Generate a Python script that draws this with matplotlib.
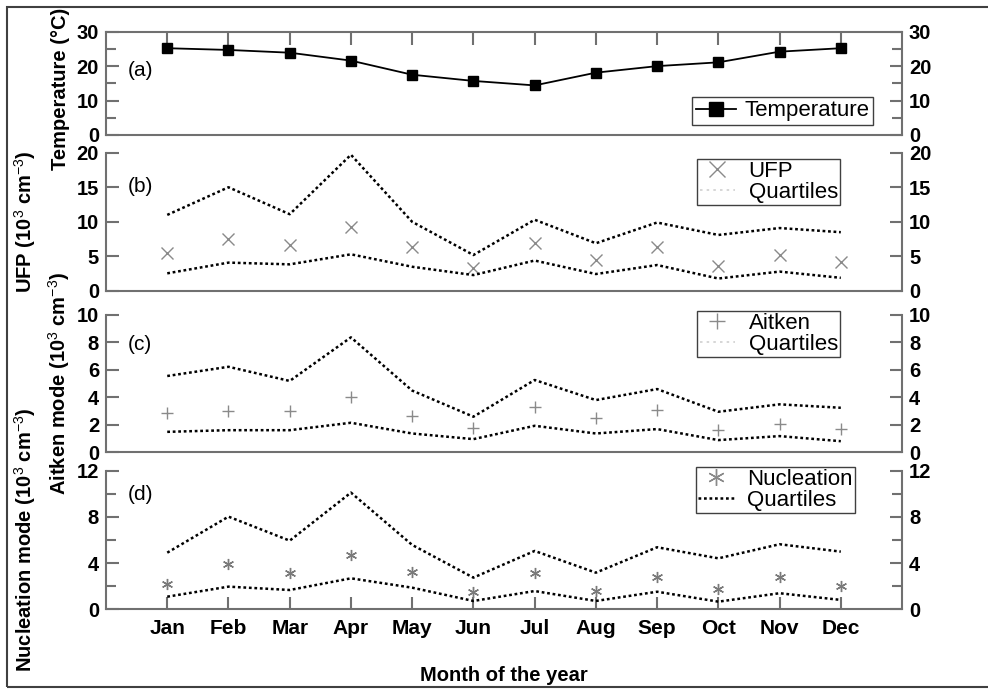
import matplotlib
matplotlib.use("Agg")
import matplotlib.pyplot as plt
from matplotlib.lines import Line2D
from matplotlib.patches import Rectangle
from matplotlib.ticker import MultipleLocator

plt.rcParams['font.family'] = ['Liberation Sans', 'DejaVu Sans']
plt.rcParams['mathtext.fontset'] = 'custom'
plt.rcParams['mathtext.rm'] = 'Liberation Sans'
plt.rcParams['mathtext.it'] = 'Liberation Sans:italic'
plt.rcParams['mathtext.bf'] = 'Liberation Sans:bold'

months = ['Jan', 'Feb', 'Mar', 'Apr', 'May', 'Jun', 'Jul', 'Aug', 'Sep', 'Oct', 'Nov', 'Dec']
month_idx = list(range(1, 13))

temperature = [25.2, 24.7, 23.9, 21.6, 17.5, 15.7, 14.4, 18.1, 20.0, 21.1, 24.2, 25.2]

ufp_median = [5.45, 7.5, 6.65, 9.3, 6.35, 3.3, 7.0, 4.5, 6.4, 3.6, 5.2, 4.2]
ufp_q75 = [11.0, 15.0, 11.1, 19.7, 10.0, 5.2, 10.3, 6.9, 9.9, 8.1, 9.1, 8.5]
ufp_q25 = [2.55, 4.1, 3.85, 5.3, 3.5, 2.3, 4.4, 2.45, 3.75, 1.8, 2.8, 1.9]

aitken_median = [2.84, 3.03, 3.03, 4.0, 2.64, 1.8, 3.32, 2.52, 3.08, 1.62, 2.06, 1.7]
aitken_q75 = [5.56, 6.23, 5.2, 8.37, 4.5, 2.6, 5.27, 3.81, 4.61, 2.96, 3.5, 3.25]
aitken_q25 = [1.5, 1.62, 1.62, 2.16, 1.38, 0.97, 1.94, 1.38, 1.7, 0.9, 1.19, 0.82]

nuc_median = [2.16, 3.9, 3.17, 4.7, 3.2, 1.53, 3.12, 1.58, 2.82, 1.76, 2.82, 2.02]
nuc_q75 = [4.9, 8.02, 5.94, 10.1, 5.57, 2.74, 5.05, 3.17, 5.37, 4.41, 5.63, 4.99]
nuc_q25 = [1.09, 1.96, 1.67, 2.68, 1.87, 0.72, 1.58, 0.72, 1.52, 0.66, 1.39, 0.81]

spine_col = '#707070'
dot_style = (0, (1.1, 1.1))

fig = plt.figure(figsize=(9.88, 6.89), dpi=100)
left, width = 0.1073, 0.8057
ax_a = fig.add_axes([left, 0.8041, width, 0.1499])
ax_b = fig.add_axes([left, 0.5777, width, 0.2007])
ax_c = fig.add_axes([left, 0.3433, width, 0.1996])
ax_d = fig.add_axes([left, 0.1157, width, 0.2012])

for ax in [ax_a, ax_b, ax_c, ax_d]:
    ax.set_xlim(0, 13)
    for s in ax.spines.values():
        s.set_color(spine_col)
        s.set_linewidth(1.5)
    ax.tick_params(axis='y', which='both', direction='in', left=True, right=True,
                   labelleft=True, labelright=True, color=spine_col, width=1.5,
                   labelsize=14.5, pad=5)
    ax.tick_params(axis='y', which='major', length=9)
    ax.tick_params(axis='y', which='minor', length=7)
    ax.set_xticks(month_idx)
    ax.tick_params(axis='x', direction='in', length=9, width=1.5, color=spine_col,
                   bottom=False, top=False, labelbottom=False)

for ax in [ax_b, ax_c, ax_d]:
    ax.spines['top'].set_visible(False)

# (a) temperature
ax_a.plot(month_idx, temperature, color='black', lw=1.3, marker='s', ms=7,
          label='Temperature')
ax_a.set_ylim(0, 30)
ax_a.yaxis.set_major_locator(MultipleLocator(10))
ax_a.yaxis.set_minor_locator(MultipleLocator(5))
ax_a.tick_params(axis='x', top=True)
lg_a = ax_a.legend(loc='upper right', bbox_to_anchor=(873 / 988, 1 - 97 / 689),
                   bbox_transform=fig.transFigure, fontsize=16, fancybox=False,
                   edgecolor='#404040', framealpha=1, borderpad=0.15, handlelength=1.8,
                   handletextpad=0.4, borderaxespad=0, markerscale=1.4)
lg_a.get_frame().set_linewidth(1.0)

# (b) UFP
ax_b.plot(month_idx, ufp_median, ls='none', marker='x', ms=8, mec='#8a8a8a', mew=1.0)
ax_b.plot(month_idx, ufp_q75, color='black', lw=1.8, ls=dot_style)
ax_b.plot(month_idx, ufp_q25, color='black', lw=1.8, ls=dot_style)
ax_b.set_ylim(0, 20)
ax_b.yaxis.set_major_locator(MultipleLocator(5))

# (c) Aitken
ax_c.plot(month_idx, aitken_median, ls='none', marker='+', ms=9, mec='#8a8a8a', mew=1.0)
ax_c.plot(month_idx, aitken_q75, color='black', lw=1.8, ls=dot_style)
ax_c.plot(month_idx, aitken_q25, color='black', lw=1.8, ls=dot_style)
ax_c.set_ylim(0, 10)
ax_c.yaxis.set_major_locator(MultipleLocator(2))

# (d) Nucleation
ax_d.plot(month_idx, nuc_median, ls='none', marker=(6, 2, 0), ms=8, mec='#7a7a7a', mew=1.0)
ax_d.plot(month_idx, nuc_q75, color='black', lw=1.8, ls=dot_style)
ax_d.plot(month_idx, nuc_q25, color='black', lw=1.8, ls=dot_style)
ax_d.set_ylim(0, 12)
ax_d.yaxis.set_major_locator(MultipleLocator(4))
ax_d.yaxis.set_minor_locator(MultipleLocator(2))
ax_d.tick_params(axis='x', bottom=True, labelbottom=True, labelsize=15, pad=7)
ax_d.set_xticklabels(months, fontweight='bold')
ax_d.set_xlabel('Month of the year', fontsize=14.5, fontweight='bold', labelpad=20)

for ax in [ax_a, ax_b, ax_c, ax_d]:
    for lab in ax.get_yticklabels(which='both'):
        lab.set_fontweight('bold')

# legends
def leg(ax, handles, labels, top_px, right_px):
    lg = ax.legend(handles, labels, loc='upper right',
                   bbox_to_anchor=(right_px / 988, 1 - top_px / 689),
                   bbox_transform=fig.transFigure, fontsize=16, fancybox=False,
                   edgecolor='#404040', framealpha=1, borderpad=0.1,
                   labelspacing=0.0, handlelength=1.6, handletextpad=0.6,
                   borderaxespad=0)
    lg.get_frame().set_linewidth(1.0)

faint = Line2D([], [], color='#cfcfcf', lw=1.2, ls=(0, (1.5, 2.5)))
leg(ax_b, [Line2D([], [], ls='none', marker='x', ms=12, mec='#8a8a8a', mew=1.0), faint],
    ['UFP', 'Quartiles'], 159, 840)
leg(ax_c, [Line2D([], [], ls='none', marker='+', ms=12, mec='#8a8a8a', mew=1.0), faint],
    ['Aitken', 'Quartiles'], 311, 840)
leg(ax_d, [Line2D([], [], ls='none', marker=(6, 2, 0), ms=12, mec='#8a8a8a', mew=1.0),
           Line2D([], [], color='black', lw=1.8, ls=dot_style)],
    ['Nucleation', 'Quartiles'], 467, 855)

# panel tags
fig.text(128 / 988, 1 - 70 / 689, '(a)', fontsize=15, va='center')
fig.text(128 / 988, 1 - 187 / 689, '(b)', fontsize=15, va='center')
fig.text(128 / 988, 1 - 344 / 689, '(c)', fontsize=15, va='center')
fig.text(128 / 988, 1 - 495 / 689, '(d)', fontsize=15, va='center')

# y labels
ax_a.set_ylabel('Temperature (°C)', fontsize=14.5, fontweight='bold')
ax_a.yaxis.set_label_coords(-0.045, 0.45)
ax_b.set_ylabel(r'UFP (10$^{\mathrm{3}}$ cm$^{\mathrm{-3}}$)', fontsize=14.5, fontweight='bold')
ax_b.yaxis.set_label_coords(-0.085, 0.5)
ax_c.set_ylabel(r'Aitken mode (10$^{\mathrm{3}}$ cm$^{\mathrm{-3}}$)', fontsize=14.5, fontweight='bold')
ax_c.yaxis.set_label_coords(-0.043, 0.5)
ax_d.set_ylabel(r'Nucleation mode (10$^{\mathrm{3}}$ cm$^{\mathrm{-3}}$)', fontsize=14.5, fontweight='bold')
ax_d.yaxis.set_label_coords(-0.085, 0.5)

# outer frame
fig.patches.append(Rectangle((7 / 988, 2 / 689), 1.2, 680 / 689, transform=fig.transFigure,
                             fill=False, edgecolor='#404040', lw=1.5))

fig.savefig('out.png', dpi=100)
